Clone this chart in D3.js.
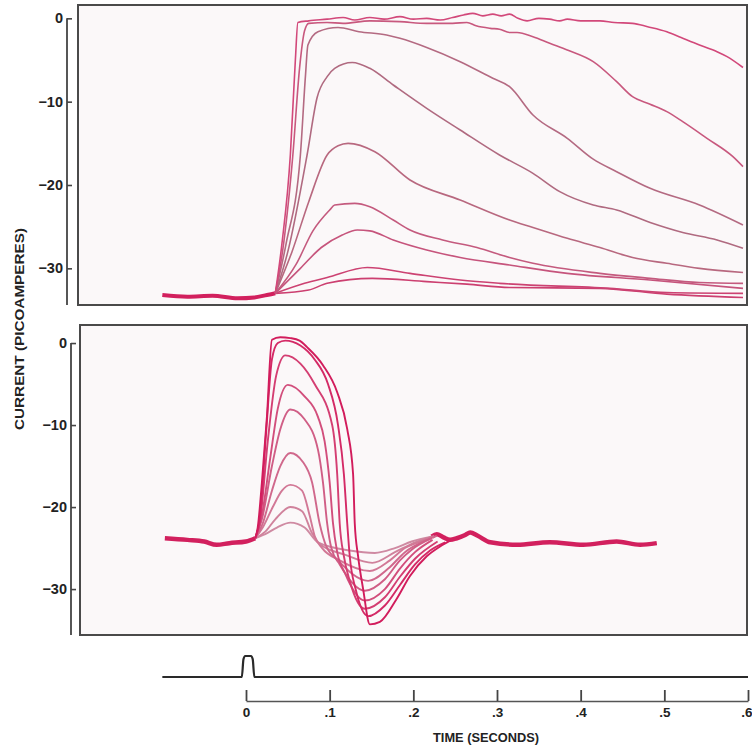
<!DOCTYPE html>
<meta charset="utf-8">
<style>
    body {
        margin: 0;
        background: #fff;
    }
    svg {
        display: block;
        font-family: "Liberation Sans", Arial, sans-serif;
        font-weight: bold;
    }
</style>
<svg width="752" height="746"></svg>
<script src="https://cdnjs.cloudflare.com/ajax/libs/d3/7.8.5/d3.min.js"></script>
<script>

    // tick values
    var timeTicks = [0, 0.1, 0.2, 0.3, 0.4, 0.5, 0.6];
    var currentTicks = [0, -10, -20, -30];

    // top panel: shared pre-flash baseline, then one trace per flash intensity  [t (s), current (pA)]
    var topBaseline = [[-0.1, -33.2], [-0.07, -33.4], [-0.04, -33.3], [-0.01, -33.6], [0.01, -33.5], [0.025, -33.2], [0.035, -33.0]];
    var topA = [[0.035, -33], [0.043, -27], [0.053, -16.4], [0.059, -5], [0.062, -0.5], [0.075, -0.3], [0.097, -0.1], [0.116, 0.1], [0.13, -0.2], [0.148, 0.1], [0.165, -0.1], [0.184, 0.2], [0.2, -0.1], [0.216, 0.0], [0.232, -0.2], [0.247, 0.1], [0.26, 0.4], [0.271, 0.6], [0.283, 0.3], [0.295, 0.5], [0.305, 0.3], [0.315, 0.5], [0.325, 0.0], [0.336, -0.3], [0.35, 0.0], [0.363, -0.1], [0.375, -0.3], [0.384, -0.1], [0.4, -0.3], [0.423, -0.3], [0.44, -0.5], [0.462, -0.6], [0.48, -1.0], [0.503, -1.6], [0.52, -2.3], [0.542, -3.2], [0.563, -4.0], [0.575, -4.6], [0.594, -5.9]];
    var topB = [[0.035, -33], [0.045, -27], [0.056, -16.4], [0.064, -6], [0.07, -1.5], [0.075, -0.6], [0.097, -0.5], [0.116, -0.6], [0.148, -0.3], [0.184, -0.4], [0.216, -0.6], [0.247, -0.6], [0.264, -0.5], [0.275, -0.9], [0.292, -1.2], [0.303, -1.3], [0.315, -1.7], [0.324, -1.7], [0.343, -2.2], [0.363, -3.0], [0.384, -3.8], [0.415, -5.2], [0.443, -7.6], [0.462, -9.4], [0.483, -10.3], [0.503, -11.2], [0.522, -12.4], [0.551, -14.4], [0.582, -16.6], [0.594, -17.8]];
    var topC = [[0.035, -33], [0.048, -27], [0.065, -16.4], [0.071, -7], [0.074, -3.2], [0.086, -1.6], [0.11, -1.1], [0.135, -1.6], [0.168, -2.0], [0.184, -2.4], [0.216, -3.5], [0.256, -5.2], [0.295, -7.2], [0.315, -8.2], [0.343, -11.6], [0.384, -14.4], [0.415, -16.9], [0.443, -18.4], [0.483, -20.4], [0.542, -22.4], [0.594, -24.8]];
    var topD = [[0.035, -33], [0.05, -28], [0.073, -16.4], [0.085, -9.5], [0.097, -7], [0.106, -6], [0.127, -5.3], [0.148, -6.0], [0.176, -8.0], [0.216, -10.8], [0.256, -13.4], [0.303, -16.4], [0.343, -18.6], [0.375, -20.8], [0.415, -22.4], [0.443, -23.0], [0.483, -24.5], [0.522, -25.7], [0.563, -26.6], [0.594, -27.6]];
    var topE = [[0.035, -33], [0.055, -28], [0.075, -22], [0.097, -16.4], [0.11, -15.3], [0.122, -15], [0.154, -16], [0.196, -19.4], [0.256, -21.8], [0.315, -24.2], [0.343, -25.1], [0.384, -26.4], [0.423, -27.5], [0.462, -28.7], [0.503, -29.4], [0.542, -30], [0.594, -30.5]];
    var topF = [[0.035, -33], [0.06, -29.5], [0.08, -25.5], [0.1, -23], [0.106, -22.4], [0.13, -22.2], [0.148, -22.6], [0.176, -24.2], [0.196, -25.4], [0.235, -26.6], [0.276, -27.5], [0.315, -28.7], [0.343, -29.4], [0.423, -30.6], [0.483, -31.2], [0.542, -31.7], [0.594, -31.8]];
    var topG = [[0.035, -33], [0.065, -30], [0.09, -27.5], [0.115, -26], [0.133, -25.4], [0.148, -25.5], [0.176, -26.6], [0.216, -27.8], [0.256, -28.7], [0.315, -29.6], [0.384, -30.6], [0.483, -31.4], [0.594, -32.4]];
    var topH = [[0.035, -33], [0.07, -31.8], [0.097, -31.1], [0.145, -29.9], [0.196, -30.6], [0.256, -31.4], [0.303, -31.8], [0.435, -32.4], [0.503, -32.9], [0.594, -33]];
    var topI = [[0.035, -33], [0.075, -32.6], [0.097, -31.8], [0.151, -31.2], [0.216, -31.6], [0.264, -31.9], [0.315, -32.3], [0.423, -32.4], [0.503, -33.1], [0.594, -33.5]];
    var topTraces = [topI, topH, topG, topF, topE, topD, topC, topB, topA];
    var topColors = ["#cc3f70", "#cc4272", "#c6547c", "#c45a7e", "#b8687f", "#b06a80", "#b46a82", "#c8587e", "#d2487a"];

    // bottom panel
    var botBaseline = [[-0.097, -23.8], [-0.07, -24.0], [-0.05, -24.2], [-0.035, -24.6], [-0.02, -24.4], [0.0, -24.2], [0.011, -23.8]];
    var botTail = [[0.222, -23.6], [0.228, -23.3], [0.236, -23.7], [0.244, -24.0], [0.252, -23.8], [0.262, -23.4], [0.268, -23.1], [0.277, -23.5], [0.292, -24.3], [0.324, -24.6], [0.363, -24.3], [0.403, -24.6], [0.443, -24.2], [0.471, -24.6], [0.491, -24.4]];
    var bot1 = [[0.011, -23.8], [0.014, -22.5], [0.019, -17], [0.025, -9], [0.031, 0.4], [0.041, 0.7], [0.053, 0.6], [0.064, 0.3], [0.073, -0.5], [0.092, -2.7], [0.109, -6], [0.121, -10.5], [0.128, -16], [0.130, -22], [0.134, -26], [0.140, -30], [0.148, -34.3], [0.160, -34], [0.180, -31.2], [0.196, -28.4], [0.216, -26], [0.232, -24.8], [0.244, -24.1]];
    var bot2 = [[0.011, -23.8], [0.017, -21], [0.024, -11], [0.031, -2], [0.038, 0], [0.047, 0.3], [0.065, -0.3], [0.082, -2], [0.098, -5], [0.110, -10], [0.117, -16], [0.121, -22], [0.124, -26], [0.131, -30], [0.146, -33.3], [0.166, -32], [0.184, -29.5], [0.202, -27], [0.220, -25.3], [0.238, -24.3]];
    var bot3 = [[0.011, -23.8], [0.017, -21.5], [0.026, -12], [0.036, -4], [0.047, -1.5], [0.065, -2.5], [0.082, -5], [0.103, -10], [0.109, -16], [0.112, -22], [0.117, -26], [0.124, -29], [0.142, -32.4], [0.166, -31], [0.184, -28.5], [0.202, -26.3], [0.229, -24.2]];
    var bot4 = [[0.011, -23.8], [0.019, -21], [0.029, -14], [0.038, -8], [0.050, -5.1], [0.070, -6.5], [0.086, -9], [0.094, -12], [0.100, -17], [0.104, -22], [0.109, -25.5], [0.118, -28], [0.142, -31.4], [0.166, -30], [0.184, -27.5], [0.202, -25.5], [0.223, -24.0]];
    var bot5 = [[0.011, -23.8], [0.019, -21.5], [0.031, -15], [0.041, -10.5], [0.053, -8.1], [0.070, -9.3], [0.086, -13], [0.092, -17], [0.097, -22], [0.102, -25], [0.112, -27], [0.142, -30.2], [0.166, -28.8], [0.184, -26.5], [0.198, -25.2], [0.222, -23.8]];
    var bot6 = [[0.011, -23.8], [0.020, -22], [0.031, -18], [0.041, -15], [0.053, -13.4], [0.068, -14.5], [0.079, -17], [0.088, -22], [0.096, -24.8], [0.110, -26.5], [0.146, -29], [0.170, -27.5], [0.190, -25.5], [0.214, -24.1], [0.228, -23.5]];
    var bot7 = [[0.011, -23.8], [0.020, -22.5], [0.032, -20], [0.043, -18], [0.053, -17.3], [0.067, -18], [0.076, -21], [0.082, -23.5], [0.091, -25], [0.112, -26.5], [0.148, -27.8], [0.172, -26.5], [0.190, -25], [0.208, -24.2], [0.225, -23.5]];
    var bot8 = [[0.011, -23.8], [0.023, -23], [0.035, -21.5], [0.053, -20], [0.067, -20.5], [0.079, -23.2], [0.088, -24.5], [0.118, -25.8], [0.151, -26.8], [0.178, -25.5], [0.202, -24.3], [0.222, -23.6]];
    var bot9 = [[0.011, -23.8], [0.023, -23.3], [0.037, -22.5], [0.053, -21.9], [0.070, -22.5], [0.086, -24.3], [0.124, -25.3], [0.154, -25.6], [0.178, -25], [0.198, -24.2], [0.222, -23.6]];
    var botTraces = [bot9, bot8, bot7, bot6, bot5, bot4, bot3, bot2, bot1];
    var botColors = ["#cf8aa2", "#d0829c", "#d27896", "#d0688c", "#d05e86", "#d24e7c", "#d43e72", "#d42a66", "#d21c5c"];

    // flash monitor trace
    var stimTrace = [[-0.1, 0], [-0.005, 0], [-0.003, 0.85], [-0.001, 1], [0.006, 1], [0.008, 0.85], [0.010, 0], [0.6, 0]];

    var svg = d3.select("svg");

    var x = d3.scaleLinear().domain([0, 0.6]).range([246, 748]);
    var yTop = d3.scaleLinear().domain([-34.4, 1.6]).range([305, 5]);
    var yBot = d3.scaleLinear().domain([-35.6, 2.2]).range([635, 325]);
    var yStim = d3.scaleLinear().domain([0, 1]).range([677, 656]);

    function minus(d) {
        return d < 0 ? "\u2212" + Math.abs(d) : "" + d;
    }

    function drawPanel(left, yScale, axisX, baseline, tail, traces, colors, width, baseWidth) {
        var top = yScale.range()[1], bottom = yScale.range()[0];
        var g = svg.append("g");

        g.append("rect")
            .attr("x", left).attr("y", top)
            .attr("width", 747 - left).attr("height", bottom - top)
            .style("fill", "#fbf8f9");

        var line = d3.line()
            .x(function (d) { return x(d[0]); })
            .y(function (d) { return yScale(d[1]); })
            .curve(d3.curveMonotoneX);

        g.append("path")
            .datum(baseline)
            .attr("d", line)
            .style("fill", "none")
            .style("stroke", "#d2205e")
            .style("stroke-width", baseWidth);

        if (tail) {
            g.append("path")
                .datum(tail)
                .attr("d", line)
                .style("fill", "none")
                .style("stroke", "#d2205e")
                .style("stroke-width", baseWidth);
        }

        g.selectAll(".trace")
            .data(traces)
            .enter().append("path")
            .attr("class", "trace")
            .attr("d", line)
            .style("fill", "none")
            .style("stroke", function (d, i) { return colors[i]; })
            .style("stroke-width", width)
            .style("stroke-linejoin", "round");

        g.append("rect")
            .attr("x", left).attr("y", top)
            .attr("width", 747 - left).attr("height", bottom - top)
            .style("fill", "none")
            .style("stroke", "#4a4a4a")
            .style("stroke-width", 2);

        // current axis, drawn as a separate bar to the left of the frame
        var ax = g.append("g")
            .attr("transform", "translate(" + axisX + ",0)")
            .call(d3.axisLeft(yScale).tickValues(currentTicks).tickFormat(minus)
                .tickSizeInner(-5).tickSizeOuter(0).tickPadding(4));
        ax.select(".domain").remove();
        ax.selectAll("line").style("stroke", "#444").style("stroke-width", 1.6);
        ax.selectAll("text").style("font-size", "14.5px").style("font-family", "inherit").style("fill", "#222");
        ax.append("line")
            .attr("x1", 0).attr("x2", 0)
            .attr("y1", yScale(0)).attr("y2", bottom)
            .style("stroke", "#444").style("stroke-width", 1.8);
    }

    drawPanel(78, yTop, 67, topBaseline, null, topTraces, topColors, 1.6, 4);
    drawPanel(80, yBot, 71, botBaseline, botTail, botTraces, botColors, 1.9, 4.5);

    // flash monitor
    svg.append("path")
        .datum(stimTrace)
        .attr("d", d3.line()
            .x(function (d) { return x(d[0]); })
            .y(function (d) { return yStim(d[1]); })
            .curve(d3.curveMonotoneX))
        .style("fill", "none")
        .style("stroke", "#2a2a2a")
        .style("stroke-width", 2.2);

    // time axis
    var tAxis = svg.append("g")
        .attr("transform", "translate(0,701)")
        .call(d3.axisBottom(x).tickValues(timeTicks)
            .tickFormat(function (d) { return d === 0 ? "0" : d3.format(".1f")(d).replace(/^0/, ""); })
            .tickSizeInner(-11).tickSizeOuter(0).tickPadding(6));
    tAxis.select(".domain").style("stroke", "#555").style("stroke-width", 1.6);
    tAxis.selectAll("line").style("stroke", "#444").style("stroke-width", 1.8);
    tAxis.selectAll("text").style("font-size", "13.5px").style("font-family", "inherit").style("fill", "#222");
    tAxis.selectAll(".tick").filter(function (d) { return d === 0.6; })
        .select("text").attr("text-anchor", "end").attr("x", 4);

    svg.append("text")
        .attr("x", 486).attr("y", 742)
        .attr("text-anchor", "middle")
        .attr("textLength", 106)
        .attr("lengthAdjust", "spacingAndGlyphs")
        .style("font-size", "13px")
        .style("fill", "#222")
        .text("TIME (SECONDS)");

    svg.append("text")
        .attr("transform", "translate(24,329) rotate(-90)")
        .attr("text-anchor", "middle")
        .attr("textLength", 202)
        .attr("lengthAdjust", "spacingAndGlyphs")
        .style("font-size", "13px")
        .style("fill", "#222")
        .text("CURRENT (PICOAMPERES)");

</script>
